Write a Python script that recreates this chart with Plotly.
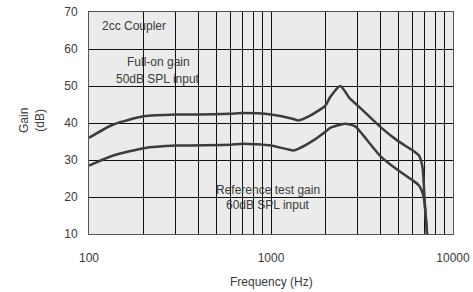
import plotly.graph_objects as go

# Full-on gain, 50 dB SPL input
full_freq = [100, 136, 200, 303, 400, 595, 700, 1000, 1330, 1410, 1640, 1990, 2115, 2400,
             2725, 3000, 4000, 5000, 6000, 6500, 6800, 7000, 7200]
full_gain = [36.0, 39.6, 41.8, 42.3, 42.3, 42.5, 42.7, 42.3, 41.1, 40.7, 42.0, 44.7, 47.0, 50.0,
             46.5, 44.7, 38.9, 35.1, 32.6, 31.2, 28.0, 18.2, 10.0]

# Reference test gain, 60 dB SPL input
ref_freq = [100, 136, 200, 303, 595, 700, 1000, 1330, 1410, 1710, 2030, 2115, 2550, 2900,
            3220, 4000, 5000, 6000, 6500, 6900, 7200]
ref_gain = [28.5, 31.2, 33.2, 33.9, 34.1, 34.4, 33.9, 32.6, 33.0, 35.3, 38.0, 38.7, 39.8, 39.1,
            36.6, 31.0, 27.2, 24.5, 23.1, 20.0, 10.0]

grid_freqs = [100, 200, 300, 400, 500, 600, 700, 800, 900,
              1000, 2000, 3000, 4000, 5000, 6000, 7000, 8000, 9000, 10000]
grid_text = [str(f) if f in (100, 1000, 10000) else "" for f in grid_freqs]
y_ticks = [10, 20, 30, 40, 50, 60, 70]

line_col = "#3c3c3c"
font = dict(family="Liberation Sans, Arial, sans-serif", size=12, color="#3a3a3a")

W, H = 473, 292
l, r, t, b = 89, 20, 12, 58
pw, ph = W - l - r, H - t - b

fig = go.Figure()
fig.add_trace(go.Scatter(x=full_freq, y=full_gain, mode="lines",
                         line=dict(color=line_col, width=2.5, shape="spline", smoothing=0.6),
                         showlegend=False, hoverinfo="skip"))
fig.add_trace(go.Scatter(x=ref_freq, y=ref_gain, mode="lines",
                         line=dict(color=line_col, width=2.5, shape="spline", smoothing=0.6),
                         showlegend=False, hoverinfo="skip"))

# annotation texts with pixel positions (converted to paper coords)
notes = [
    ("2cc Coupler", 100, 26, 0, "left"),
    ("Full-on gain", 158, 62, 0, "center"),
    ("50dB SPL input", 158, 79, 0, "center"),
    ("Reference test gain", 268, 190, 0, "center"),
    ("60dB SPL input", 268, 205, 0, "center"),
    ("Gain<br>(dB)", 32, 121, -90, "center"),
    ("Frequency (Hz)", 271, 282, 0, "center"),
]
anns = [dict(text=txt, x=(px - l) / pw, y=(H - b - py) / ph, xref="paper", yref="paper",
             showarrow=False, textangle=ang, xanchor=xa, yanchor="middle", font=font)
        for txt, px, py, ang, xa in notes]

fig.update_layout(
    width=W, height=H,
    margin=dict(l=l, r=r, t=t, b=b, autoexpand=False),
    paper_bgcolor="white", plot_bgcolor="#ebebeb",
    font=font,
    xaxis=dict(type="log", range=[2, 4], tickvals=grid_freqs, ticktext=grid_text,
               showgrid=True, gridcolor="#111111", gridwidth=1,
               ticks="outside", ticklen=13, tickcolor="rgba(0,0,0,0)",
               showline=True, linecolor="#555555", linewidth=1, mirror=True,
               zeroline=False, automargin=False),
    yaxis=dict(range=[10, 70], tickvals=y_ticks,
               showgrid=True, gridcolor="#111111", gridwidth=1,
               ticks="outside", ticklen=8, tickcolor="rgba(0,0,0,0)",
               showline=True, linecolor="#555555", linewidth=1, mirror=True,
               zeroline=False, automargin=False),
    annotations=anns,
)

fig.write_html("out.html", config={"displayModeBar": False},
               post_script="document.body.style.margin='0';")
